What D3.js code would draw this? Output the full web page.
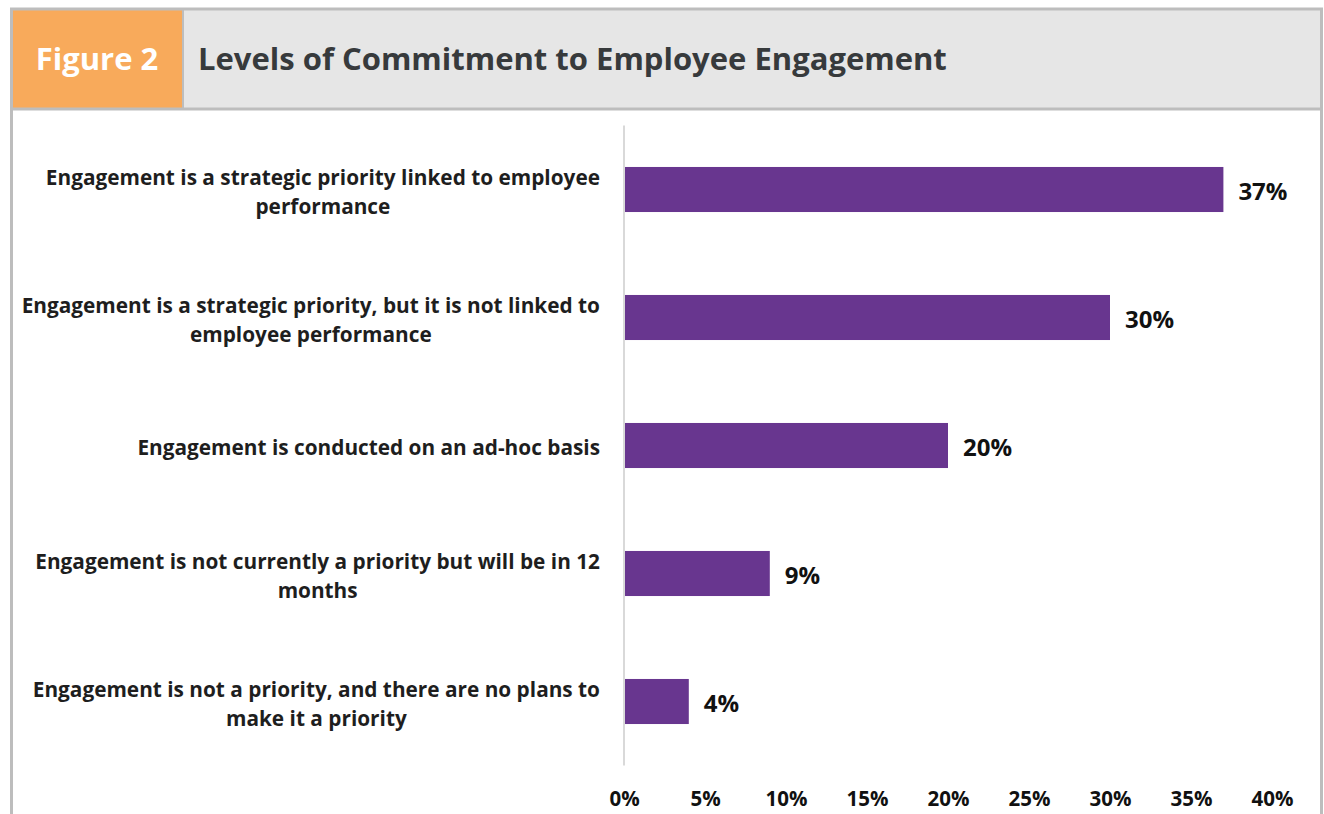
<!DOCTYPE html>
<html>
<head>
<meta charset="utf-8">
<script src="https://cdn.jsdelivr.net/npm/d3@7"></script>
<style>
  html, body { margin: 0; padding: 0; background: #fff; }
  svg { display: block; }
  text { font-family: "Open Sans", Lato, sans-serif; font-weight: 700; }
</style>
</head>
<body>
<svg id="chart" width="1324" height="814"></svg>
<script>
// Survey responses: level of commitment to employee engagement
const categoryLines = [
  ["Engagement is a strategic priority linked to employee", "performance"],
  ["Engagement is a strategic priority, but it is not linked to", "employee performance"],
  ["Engagement is conducted on an ad-hoc basis"],
  ["Engagement is not currently a priority but will be in 12", "months"],
  ["Engagement is not a priority, and there are no plans to", "make it a priority"]
];
const categories = categoryLines.map(l => l.join(" "));
const shares = [37, 30, 20, 9, 4];
const tickValues = [0, 5, 10, 15, 20, 25, 30, 35, 40];

const svg = d3.select("#chart");

// Frame and header band
const frame = { left: 11.5, right: 1321.5, top: 9, headerBottom: 109 };
svg.append("rect")
  .attr("x", frame.left).attr("y", frame.top)
  .attr("width", frame.right - frame.left).attr("height", frame.headerBottom - frame.top)
  .attr("fill", "#e6e6e6");
svg.append("rect")
  .attr("x", frame.left).attr("y", frame.top)
  .attr("width", 172).attr("height", frame.headerBottom - frame.top)
  .attr("fill", "#f8aa5b");
svg.append("line")
  .attr("x1", 183).attr("x2", 183).attr("y1", frame.top).attr("y2", frame.headerBottom)
  .attr("stroke", "#bdbdbd").attr("stroke-width", 2);
svg.append("path")
  .attr("d", `M${frame.left},814 V${frame.top} H${frame.right} V814`)
  .attr("fill", "none").attr("stroke", "#bdbdbd").attr("stroke-width", 3);
svg.append("line")
  .attr("x1", frame.left).attr("x2", frame.right)
  .attr("y1", frame.headerBottom).attr("y2", frame.headerBottom)
  .attr("stroke", "#bdbdbd").attr("stroke-width", 3);

svg.append("text")
  .attr("x", 97).attr("y", 70).attr("text-anchor", "middle")
  .attr("fill", "#ffffff").attr("font-size", 31)
  .text("Figure 2");
svg.append("text")
  .attr("x", 198).attr("y", 70)
  .attr("fill", "#373a3c").attr("font-size", 31)
  .text("Levels of Commitment to Employee Engagement");

// Plot area
const plot = { left: 624, right: 1272, top: 125.5, bottom: 765.5 };

const x = d3.scaleLinear().domain([0, 40]).range([plot.left, plot.right]);
const y = d3.scaleBand().domain(categories).range([plot.top, plot.bottom]).paddingInner(0.648).paddingOuter(0.324);

// Value axis (labels only)
const xAxis = svg.append("g")
  .attr("transform", `translate(0,${plot.bottom})`)
  .call(d3.axisBottom(x).tickValues(tickValues).tickSize(0).tickPadding(26).tickFormat(d => d + "%"));
xAxis.select(".domain").remove();
xAxis.selectAll("text")
  .attr("font-family", "'Open Sans', sans-serif").attr("font-weight", 700)
  .attr("font-size", 20.5).attr("fill", "#111");

// Category axis line
svg.append("line")
  .attr("x1", plot.left).attr("x2", plot.left)
  .attr("y1", plot.top).attr("y2", plot.bottom)
  .attr("stroke", "#d9d9d9").attr("stroke-width", 2);

// Bars
svg.append("g").selectAll("rect")
  .data(shares)
  .join("rect")
  .attr("x", x(0) + 1)
  .attr("y", (d, i) => y(categories[i]))
  .attr("width", d => x(d) - x(0) - 1)
  .attr("height", y.bandwidth())
  .attr("fill", "#68368f");

// Value labels
svg.append("g").selectAll("text")
  .data(shares)
  .join("text")
  .attr("x", d => x(d) + 15)
  .attr("y", (d, i) => y(categories[i]) + y.bandwidth() / 2)
  .attr("dy", "0.42em")
  .attr("font-size", 24).attr("fill", "#111")
  .text(d => d + "%");

// Category labels: first line right-aligned, second line centred under it
const labels = svg.append("g").selectAll("text")
  .data(categoryLines)
  .join("text")
  .attr("text-anchor", "end")
  .attr("font-size", 20.8).attr("fill", "#1e1e1e")
  .attr("transform", (d, i) => `translate(600,${y(categories[i]) + y.bandwidth() / 2})`);
labels.each(function(lines) {
  const t = d3.select(this);
  const lh = 29;
  const start = -(lines.length - 1) * lh / 2;
  const spans = lines.map((line, k) =>
    t.append("tspan")
      .attr("x", 0)
      .attr("y", start + k * lh)
      .attr("dy", "0.47em")
      .text(line));
  if (spans.length > 1) {
    const w0 = spans[0].node().getComputedTextLength();
    spans[1].attr("text-anchor", "middle").attr("x", -w0 / 2);
  }
});
</script>
</body>
</html>
